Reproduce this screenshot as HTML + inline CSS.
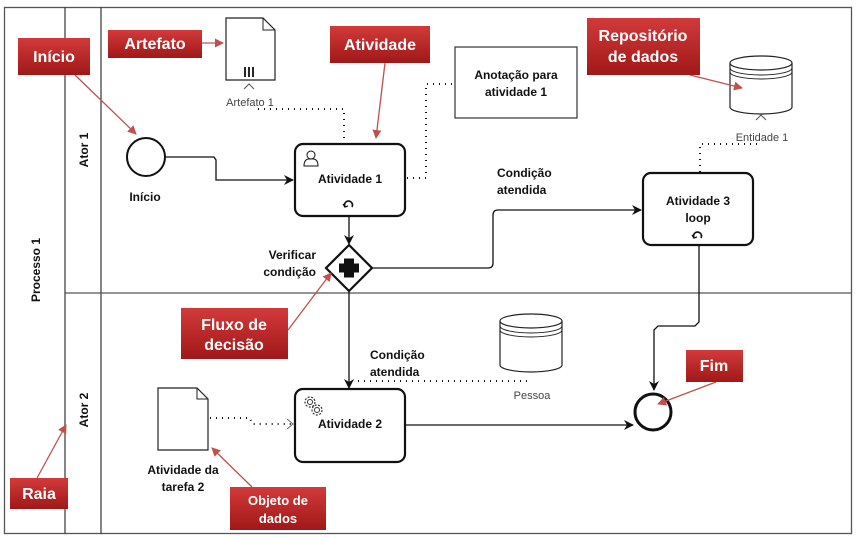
<!DOCTYPE html>
<html><head><meta charset="utf-8"><style>
html,body{margin:0;padding:0;background:#fff;}
svg{display:block;font-family:"Liberation Sans",sans-serif;}
.b{font-weight:bold;font-size:12px;fill:#111;}
.n{font-size:11px;fill:#444;}
.r{fill:#fff;font-weight:bold;font-size:16px;}
</style></head><body>
<svg width="857" height="538" viewBox="0 0 857 538">
<defs>
<linearGradient id="g" x1="0" y1="0" x2="0" y2="1"><stop offset="0" stop-color="#d23a3a"/><stop offset="1" stop-color="#a01818"/></linearGradient>
<marker id="a" markerWidth="10" markerHeight="10" refX="9" refY="5" orient="auto" markerUnits="userSpaceOnUse"><path d="M0,0 L10,5 L0,10 L3,5 Z" fill="#111"/></marker>
<marker id="ra" markerWidth="9" markerHeight="9" refX="8" refY="4.5" orient="auto" markerUnits="userSpaceOnUse"><path d="M0,0 L9,4.5 L0,9 Z" fill="#c0504d"/></marker>
<marker id="oa" markerWidth="8" markerHeight="10" refX="7" refY="5" orient="auto" markerUnits="userSpaceOnUse"><path d="M0,0 L7,5 L0,10" fill="none" stroke="#666"/></marker>
</defs>
<!-- frame -->
<rect x="4.5" y="7.5" width="847" height="526" fill="#fff" stroke="#555" stroke-width="1.3"/>
<line x1="65" y1="7" x2="65" y2="534" stroke="#444" stroke-width="1.3"/>
<line x1="101" y1="7" x2="101" y2="534" stroke="#444" stroke-width="1.3"/>
<line x1="65" y1="293" x2="851" y2="293" stroke="#555" stroke-width="1.3"/>
<text class="b" transform="translate(40,270) rotate(-90)" text-anchor="middle">Processo 1</text>
<text class="b" transform="translate(88,150) rotate(-90)" text-anchor="middle">Ator 1</text>
<text class="b" transform="translate(88,410) rotate(-90)" text-anchor="middle">Ator 2</text>

<!-- start -->
<circle cx="146" cy="157" r="19" fill="#fff" stroke="#111" stroke-width="2"/>
<text class="b" x="145" y="201" text-anchor="middle">Início</text>
<path d="M165,157 H214 L216,160 V180 H293" fill="none" stroke="#111" stroke-width="1.3" marker-end="url(#a)"/>

<!-- activity 1 -->
<rect x="295" y="144" width="110" height="72" rx="8" fill="#fff" stroke="#111" stroke-width="2.2"/>
<circle cx="311" cy="155" r="4" fill="none" stroke="#111"/><path d="M304,166 Q304,158 311,159 Q318,158 318,166 Z" fill="none" stroke="#111"/>
<text class="b" x="350" y="183" text-anchor="middle">Atividade 1</text>
<path d="M345,207 A4,4 0 1 1 352,207" fill="none" stroke="#111" stroke-width="1.6"/><path d="M343,204 l2,3 l3,-1" fill="none" stroke="#111" stroke-width="1.3"/>
<line x1="349" y1="216" x2="349" y2="244" stroke="#111" stroke-width="1.3" marker-end="url(#a)"/>

<!-- gateway -->
<path d="M349,245 L372,268 L349,291 L326,268 Z" fill="#fff" stroke="#111" stroke-width="2.2"/>
<path d="M344,259 h10 v5 h5 v9 h-5 v5 h-10 v-5 h-5 v-9 h5 z" fill="#111" transform="translate(0,-0.5)"/>
<text class="b" x="316" y="259" text-anchor="end">Verificar</text>
<text class="b" x="316" y="276" text-anchor="end">condição</text>
<path d="M372,268 H488 Q493,268 493,263 V215 Q493,210 498,210 H641" fill="none" stroke="#111" stroke-width="1.3" marker-end="url(#a)"/>
<text class="b" x="497" y="177">Condição</text>
<text class="b" x="497" y="194">atendida</text>
<line x1="349" y1="291" x2="349" y2="388" stroke="#111" stroke-width="1.3" marker-end="url(#a)"/>
<text class="b" x="370" y="359">Condição</text>
<text class="b" x="370" y="376">atendida</text>

<!-- activity 3 -->
<rect x="643" y="173" width="110" height="72" rx="8" fill="#fff" stroke="#111" stroke-width="2.2"/>
<text class="b" x="698" y="205" text-anchor="middle">Atividade 3</text>
<text class="b" x="698" y="222" text-anchor="middle">loop</text>
<path d="M694,238 A4,4 0 1 1 701,238" fill="none" stroke="#111" stroke-width="1.6"/><path d="M692,235 l2,3 l3,-1" fill="none" stroke="#111" stroke-width="1.3"/>
<path d="M699,245 V322 L695,326 H658 L654,330 V390" fill="none" stroke="#111" stroke-width="1.3" marker-end="url(#a)"/>

<!-- end -->
<circle cx="653" cy="412" r="18" fill="#fff" stroke="#111" stroke-width="3"/>

<!-- activity 2 -->
<rect x="295" y="389" width="110" height="73" rx="8" fill="#fff" stroke="#111" stroke-width="2.2"/>
<circle cx="310" cy="402" r="5" fill="none" stroke="#333" stroke-width="1.2" stroke-dasharray="2 1.5"/><circle cx="310" cy="402" r="2.5" fill="none" stroke="#333"/>
<circle cx="317" cy="410" r="5" fill="none" stroke="#333" stroke-width="1.2" stroke-dasharray="2 1.5"/><circle cx="317" cy="410" r="2.5" fill="none" stroke="#333"/>
<text class="b" x="350" y="428" text-anchor="middle">Atividade 2</text>
<line x1="405" y1="425" x2="633" y2="425" stroke="#111" stroke-width="1.3" marker-end="url(#a)"/>

<!-- artefato 1 -->
<path d="M226,18 H263 L275,30 V80 H226 Z" fill="#fff" stroke="#222" stroke-width="1.2"/>
<path d="M263,18 V30 H275" fill="none" stroke="#222"/>
<path d="M245,67 v10 M249,67 v10 M253,67 v10" stroke="#111" stroke-width="1.8"/>
<path d="M244,89 L249,84 L254,89" fill="none" stroke="#555"/>
<text class="n" x="250" y="106" text-anchor="middle">Artefato 1</text>
<path d="M258,109 H344 V143" fill="none" stroke="#111" stroke-width="2" stroke-dasharray="1 5"/>

<!-- annotation -->
<rect x="455" y="47" width="122" height="71" fill="#fff" stroke="#333" stroke-width="1.2"/>
<text class="b" x="516" y="79" text-anchor="middle">Anotação para</text>
<text class="b" x="516" y="96" text-anchor="middle">atividade 1</text>
<path d="M407,178 H426 V84 H453" fill="none" stroke="#111" stroke-width="2" stroke-dasharray="1 5"/>

<!-- entidade 1 -->
<path d="M730,63 V107 A31,7 0 0 0 792,107 V63" fill="#fff" stroke="#222" stroke-width="1.2"/>
<ellipse cx="761" cy="63" rx="31" ry="7" fill="#fff" stroke="#222" stroke-width="1.2"/>
<path d="M730,68 A31,7 0 0 0 792,68 M730,72 A31,7 0 0 0 792,72" fill="none" stroke="#222"/>
<path d="M756,120 L761,115 L766,120" fill="none" stroke="#555"/>
<text class="n" x="762" y="141" text-anchor="middle">Entidade 1</text>
<path d="M700,172 V144 H762" fill="none" stroke="#111" stroke-width="2" stroke-dasharray="1 5"/>

<!-- pessoa -->
<path d="M500,321 V365 A31,7 0 0 0 562,365 V321" fill="#fff" stroke="#222" stroke-width="1.2"/>
<ellipse cx="531" cy="321" rx="31" ry="7" fill="#fff" stroke="#222" stroke-width="1.2"/>
<path d="M500,326 A31,7 0 0 0 562,326 M500,330 A31,7 0 0 0 562,330" fill="none" stroke="#222"/>
<text class="n" x="532" y="399" text-anchor="middle">Pessoa</text>
<path d="M358,381 H530" fill="none" stroke="#111" stroke-width="2" stroke-dasharray="1 5"/>

<!-- data object -->
<path d="M158,388 H197 L208,399 V450 H158 Z" fill="#fff" stroke="#222" stroke-width="1.2"/>
<path d="M197,388 V399 H208" fill="none" stroke="#222"/>
<text class="b" x="183" y="474" text-anchor="middle">Atividade da</text>
<text class="b" x="183" y="491" text-anchor="middle">tarefa 2</text>
<path d="M210,418 H250 L252,424 H292" fill="none" stroke="#111" stroke-width="2" stroke-dasharray="1 5"/>
<path d="M287,419 L293,424 L287,429" fill="none" stroke="#666"/>

<!-- red callouts -->
<g stroke="#c0504d" stroke-width="1.3" fill="none">
<line x1="75" y1="75" x2="136" y2="134" marker-end="url(#ra)"/>
<line x1="202" y1="43" x2="223" y2="43" marker-end="url(#ra)"/>
<line x1="385" y1="63" x2="376" y2="138" marker-end="url(#ra)"/>
<line x1="690" y1="75" x2="742" y2="88" marker-end="url(#ra)"/>
<line x1="288" y1="330" x2="331" y2="273" marker-end="url(#ra)"/>
<line x1="716" y1="382" x2="658" y2="404" marker-end="url(#ra)"/>
<line x1="37" y1="478" x2="66" y2="425" marker-end="url(#ra)"/>
<line x1="252" y1="487" x2="212" y2="448" marker-end="url(#ra)"/>
</g>
<g>
<rect x="18" y="38" width="72" height="37" fill="url(#g)"/><text class="r" x="54" y="62" text-anchor="middle">Início</text>
<rect x="108" y="30" width="94" height="28" fill="url(#g)"/><text class="r" x="155" y="49" text-anchor="middle">Artefato</text>
<rect x="330" y="26" width="100" height="37" fill="url(#g)"/><text class="r" x="380" y="50" text-anchor="middle">Atividade</text>
<rect x="587" y="18" width="113" height="57" fill="url(#g)"/><text class="r" x="643" y="41" text-anchor="middle">Repositório</text><text class="r" x="643" y="62" text-anchor="middle">de dados</text>
<rect x="181" y="308" width="107" height="51" fill="url(#g)"/><text class="r" x="234" y="330" text-anchor="middle">Fluxo de</text><text class="r" x="234" y="350" text-anchor="middle">decisão</text>
<rect x="686" y="350" width="57" height="32" fill="url(#g)"/><text class="r" x="714" y="371" text-anchor="middle">Fim</text>
<rect x="10" y="478" width="58" height="31" fill="url(#g)"/><text class="r" x="39" y="499" text-anchor="middle">Raia</text>
<rect x="230" y="487" width="96" height="43" fill="url(#g)"/><text class="r" x="278" y="505" text-anchor="middle" style="font-size:13px">Objeto de</text><text class="r" x="278" y="523" text-anchor="middle" style="font-size:13px">dados</text>
</g>
</svg>
</body></html>
